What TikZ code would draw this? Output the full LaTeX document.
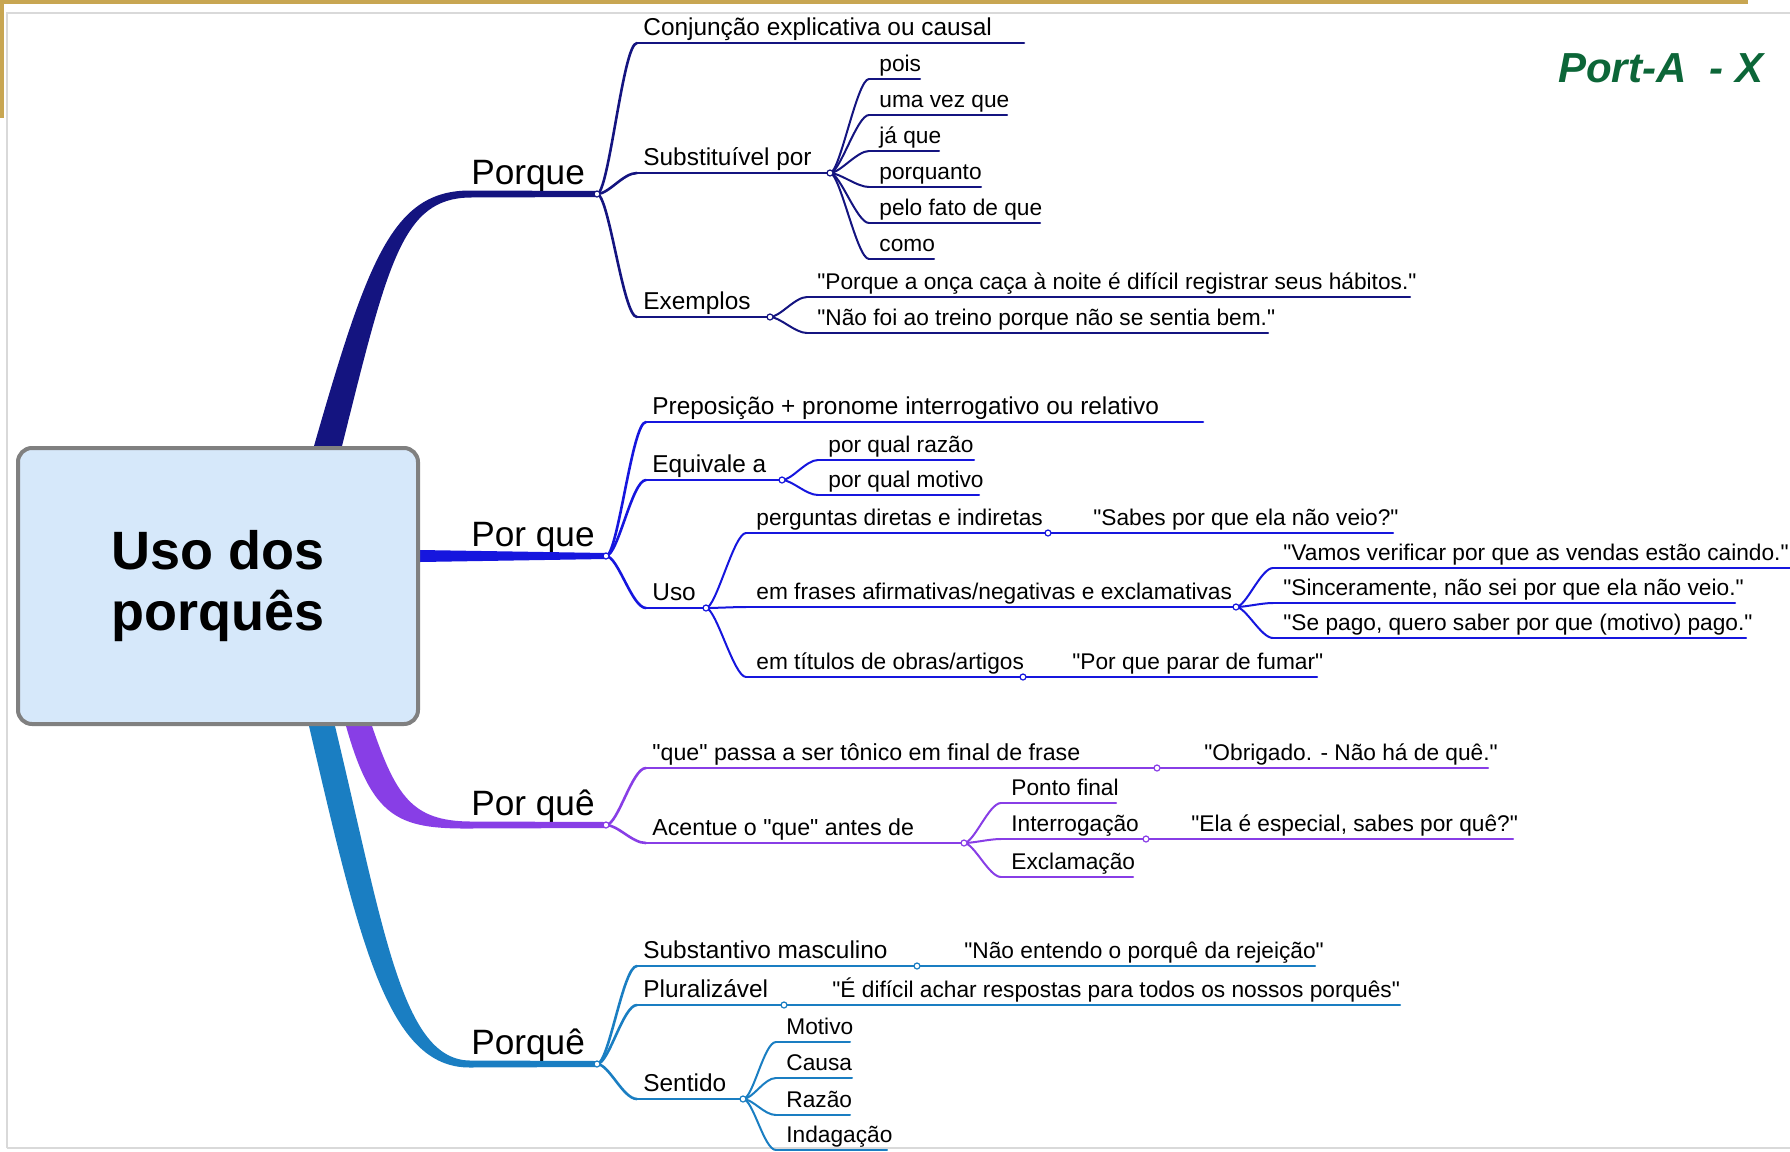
\documentclass[tikz,border=0pt]{standalone}
\usepackage{fontspec}
\setmainfont{Liberation Sans}[Ligatures=TeXOff]

\definecolor{colA}{RGB}{20,20,128}
\definecolor{colB}{RGB}{22,22,222}
\definecolor{colC}{RGB}{136,62,230}
\definecolor{colD}{RGB}{26,126,194}
\definecolor{boxblue}{RGB}{214,232,250}
\definecolor{boxgray}{RGB}{128,128,128}
\definecolor{gold}{RGB}{200,166,82}
\definecolor{tagGreen}{RGB}{12,102,56}

\tikzset{
    rootbox/.style={draw=boxgray, line width=2pt, fill=boxblue, rounded corners=7pt,
        minimum width=200pt, minimum height=138pt, align=center,
        font=\bfseries\fontsize{27}{30.5}\selectfont},
    lone/.style={anchor=base west, inner sep=0pt, font=\fontsize{17.6}{20}\selectfont},
    ltwo/.style={anchor=base west, inner xsep=3pt, inner ysep=0pt, font=\fontsize{12.2}{14}\selectfont},
    ltwosmall/.style={ltwo, font=\fontsize{11.6}{14}\selectfont},
    lthree/.style={anchor=base west, inner xsep=5pt, inner ysep=0pt, font=\fontsize{11.35}{13}\selectfont},
    wtwo/.style={draw=#1, line width=1.3pt, line cap=round},
    wthree/.style={draw=#1, line width=1pt, line cap=round},
    knot/.style={draw=#1, fill=white, line width=0.6pt},
}

\begin{document}
\begin{tikzpicture}[x=0.5pt, y=-0.5pt]
    \useasboundingbox (0,0) rectangle (1790,1152);
    % page frame
    \draw[black!15, line width=1pt] (7,1148) -- (7,13) -- (1800,13);
    \draw[black!15, line width=1pt] (7,1148) -- (1800,1148);
    \fill[gold] (0,0) rectangle (1748,4);
    \fill[gold] (0,0) rectangle (4,118);
    \node[anchor=base east, inner sep=0pt, text=tagGreen, font=\bfseries\itshape\fontsize{21}{24}\selectfont] (tag) at (1764,82) {Port-A\ \ - X};

    \coordinate (fA) at (597,194);
    \coordinate (fB) at (606,556);
    \coordinate (fC) at (606,825);
    \coordinate (fD) at (597,1064);

    % Porque
    \node[lone] (porque) at (471,184) {Porque};
    \node[ltwo] (conj) at (637,35) {Conjunção explicativa ou causal};
    \node[ltwo] (subst) at (637,165) {Substituível por};
    \node[ltwo] (exem) at (637,309) {Exemplos};
    \draw[wtwo=colA] (conj.base west) ++(0,8) coordinate (conj-s) -- ++(387,0);
    \draw[wtwo=colA] (subst.base west) ++(0,8) coordinate (subst-s) -- ++(193,0) coordinate (subst-f);
    \draw[wtwo=colA] (exem.base west) ++(0,8) coordinate (exem-s) -- ++(133,0) coordinate (exem-f);
    \foreach \n in {conj, subst, exem}
        \draw[wtwo=colA] (fA) .. controls +(12,0) and +(-14,0) .. (\n-s);

    \node[lthree] (pois) at (869,71) {pois};
    \node[lthree] (umavez) at (869,107) {uma vez que};
    \node[lthree] (jaque) at (869,143) {já que};
    \node[lthree] (porquanto) at (869,179) {porquanto};
    \node[lthree] (pelofato) at (869,215) {pelo fato de que};
    \node[lthree] (como) at (869,251) {como};
    \foreach \n/\l in {pois/51, umavez/138, jaque/70, porquanto/112, pelofato/171, como/65} {
        \draw[wthree=colA] (\n.base west) ++(0,8) coordinate (\n-s) -- ++(\l,0);
        \draw[wthree=colA] (subst-f) .. controls +(10,0) and +(-12,0) .. (\n-s);
    }
    \node[lthree] (onca) at (807,289) {"Porque a onça caça à noite é difícil registrar seus hábitos."};
    \node[lthree] (treino) at (807,325) {"Não foi ao treino porque não se sentia bem."};
    \foreach \n/\l in {onca/603, treino/461} {
        \draw[wthree=colA] (\n.base west) ++(0,8) coordinate (\n-s) -- ++(\l,0);
        \draw[wthree=colA] (exem-f) .. controls +(10,0) and +(-12,0) .. (\n-s);
    }

    % Por que
    \node[lone] (porque2) at (471,546) {Por que};
    \node[ltwo] (prep) at (646,414) {Preposição + pronome interrogativo ou relativo};
    \node[ltwo] (equiv) at (646,472) {Equivale a};
    \node[ltwo] (uso) at (646,600) {Uso};
    \draw[wtwo=colB] (prep.base west) ++(0,8) coordinate (prep-s) -- ++(557,0);
    \draw[wtwo=colB] (equiv.base west) ++(0,8) coordinate (equiv-s) -- ++(136,0) coordinate (equiv-f);
    \draw[wtwo=colB] (uso.base west) ++(0,8) coordinate (uso-s) -- ++(60,0) coordinate (uso-f);
    \foreach \n in {prep, equiv, uso}
        \draw[wtwo=colB] (fB) .. controls +(12,0) and +(-14,0) .. (\n-s);

    \node[lthree] (razao) at (818,452) {por qual razão};
    \node[lthree] (motivo) at (818,487) {por qual motivo};
    \foreach \n/\l in {razao/156, motivo/161} {
        \draw[wthree=colB] (\n.base west) ++(0,8) coordinate (\n-s) -- ++(\l,0);
        \draw[wthree=colB] (equiv-f) .. controls +(10,0) and +(-12,0) .. (\n-s);
    }
    \node[lthree] (perg) at (746,525) {perguntas diretas e indiretas};
    \node[lthree] (frases) at (746,599) {em frases afirmativas/negativas e exclamativas};
    \node[lthree] (titulos) at (746,669) {em títulos de obras/artigos};
    \draw[wthree=colB] (perg.base west) ++(0,8) coordinate (perg-s) -- ++(302,0) coordinate (perg-f);
    \draw[wthree=colB] (frases.base west) ++(0,8) coordinate (frases-s) -- ++(490,0) coordinate (frases-f);
    \draw[wthree=colB] (titulos.base west) ++(0,8) coordinate (titulos-s) -- ++(277,0) coordinate (titulos-f);
    \foreach \n in {perg, frases, titulos}
        \draw[wthree=colB] (uso-f) .. controls +(10,0) and +(-12,0) .. (\n-s);

    \node[lthree] (sabes) at (1083,525) {"Sabes por que ela não veio?"};
    \draw[wthree=colB] (sabes.base west) ++(0,8) coordinate (sabes-s) -- ++(310,0);
    \draw[wthree=colB] (perg-f) -- (sabes-s);
    \node[lthree] (vamos) at (1273,560) {"Vamos verificar por que as vendas estão caindo."};
    \node[lthree] (sincer) at (1273,595) {"Sinceramente, não sei por que ela não veio."};
    \node[lthree] (sepago) at (1273,630) {"Se pago, quero saber por que (motivo) pago."};
    \foreach \n/\l in {vamos/517, sincer/462, sepago/473} {
        \draw[wthree=colB] (\n.base west) ++(0,8) coordinate (\n-s) -- ++(\l,0);
        \draw[wthree=colB] (frases-f) .. controls +(10,0) and +(-12,0) .. (\n-s);
    }
    \node[lthree] (fumar) at (1062,669) {"Por que parar de fumar"};
    \draw[wthree=colB] (fumar.base west) ++(0,8) coordinate (fumar-s) -- ++(255,0);
    \draw[wthree=colB] (titulos-f) -- (fumar-s);

    % Por quê
    \node[lone] (porque3) at (471,815) {Por quê};
    \node[ltwosmall] (tonico) at (646,760) {"que" passa a ser tônico em final de frase};
    \node[ltwosmall] (acent) at (646,835) {Acentue o "que" antes de};
    \draw[wtwo=colC] (tonico.base west) ++(0,8) coordinate (tonico-s) -- ++(511,0) coordinate (tonico-f);
    \draw[wtwo=colC] (acent.base west) ++(0,8) coordinate (acent-s) -- ++(318,0) coordinate (acent-f);
    \foreach \n in {tonico, acent}
        \draw[wtwo=colC] (fC) .. controls +(12,0) and +(-14,0) .. (\n-s);

    \node[lthree] (obrig) at (1194,760) {"Obrigado. - Não há de quê."};
    \draw[wthree=colC] (obrig.base west) ++(0,8) coordinate (obrig-s) -- ++(294,0);
    \draw[wthree=colC] (tonico-f) -- (obrig-s);
    \node[lthree] (ponto) at (1001,795) {Ponto final};
    \node[lthree] (interr) at (1001,831) {Interrogação};
    \node[lthree] (exclam) at (1001,869) {Exclamação};
    \draw[wthree=colC] (interr.base west) ++(0,8) coordinate (interr-s) -- ++(145,0) coordinate (interr-f);
    \foreach \n/\l in {ponto/115, exclam/132}
        \draw[wthree=colC] (\n.base west) ++(0,8) coordinate (\n-s) -- ++(\l,0);
    \foreach \n in {ponto, interr, exclam}
        \draw[wthree=colC] (acent-f) .. controls +(10,0) and +(-12,0) .. (\n-s);
    \node[lthree] (ela) at (1181,831) {"Ela é especial, sabes por quê?"};
    \draw[wthree=colC] (ela.base west) ++(0,8) coordinate (ela-s) -- ++(332,0);
    \draw[wthree=colC] (interr-f) -- (ela-s);

    % Porquê
    \node[lone] (porque4) at (471,1054) {Porquê};
    \node[ltwo] (subm) at (637,958) {Substantivo masculino};
    \node[ltwo] (plural) at (637,997) {Pluralizável};
    \node[ltwo] (sentido) at (637,1091) {Sentido};
    \draw[wtwo=colD] (subm.base west) ++(0,8) coordinate (subm-s) -- ++(280,0) coordinate (subm-f);
    \draw[wtwo=colD] (plural.base west) ++(0,8) coordinate (plural-s) -- ++(147,0) coordinate (plural-f);
    \draw[wtwo=colD] (sentido.base west) ++(0,8) coordinate (sentido-s) -- ++(106,0) coordinate (sentido-f);
    \foreach \n in {subm, plural, sentido}
        \draw[wtwo=colD] (fD) .. controls +(12,0) and +(-14,0) .. (\n-s);

    \node[lthree] (rejeicao) at (954,958) {"Não entendo o porquê da rejeição"};
    \draw[wthree=colD] (rejeicao.base west) ++(0,8) coordinate (rejeicao-s) -- ++(361,0);
    \draw[wthree=colD] (subm-f) -- (rejeicao-s);
    \node[lthree] (achar) at (822,997) {"É difícil achar respostas para todos os nossos porquês"};
    \draw[wthree=colD] (achar.base west) ++(0,8) coordinate (achar-s) -- ++(578,0);
    \draw[wthree=colD] (plural-f) -- (achar-s);
    \node[lthree] (smotivo) at (776,1034) {Motivo};
    \node[lthree] (scausa) at (776,1070) {Causa};
    \node[lthree] (srazao) at (776,1107) {Razão};
    \node[lthree] (sindag) at (776,1142) {Indagação};
    \foreach \n/\l in {smotivo/74, scausa/76, srazao/74, sindag/111} {
        \draw[wthree=colD] (\n.base west) ++(0,8) coordinate (\n-s) -- ++(\l,0);
        \draw[wthree=colD] (sentido-f) .. controls +(10,0) and +(-12,0) .. (\n-s);
    }

    % main branches
    \fill[colA] (314,446) .. controls (368,258) and (393,190.5) .. (470,190.5) -- (597,191)
        -- (597,197) -- (470,197.5) .. controls (402,198.5) and (388,262) .. (342,446) -- cycle;
    \fill[colB] (420,550) -- (606,553) -- (606,559) -- (420,562) -- cycle;
    \fill[colC] (346,726) .. controls (372,818) and (398,829) .. (470,828.5) -- (606,828)
        -- (606,822) -- (470,821.5) .. controls (412,821) and (396,796) .. (372,726) -- cycle;
    \fill[colD] (309,726) .. controls (360,945) and (388,1068) .. (470,1067.5) -- (597,1067)
        -- (597,1061) -- (470,1060.5) .. controls (402,1060) and (384,930) .. (335,726) -- cycle;

    % fork knots
    \foreach \k/\c in {fA/colA, subst-f/colA, exem-f/colA,
                       fB/colB, equiv-f/colB, uso-f/colB, perg-f/colB, frases-f/colB, titulos-f/colB,
                       fC/colC, tonico-f/colC, acent-f/colC, interr-f/colC,
                       fD/colD, subm-f/colD, plural-f/colD, sentido-f/colD}
        \filldraw[knot=\c] (\k) circle[radius=1.5pt];

    \node[rootbox] (root) at (218,586) {Uso dos\\porquês};
\end{tikzpicture}
\end{document}
